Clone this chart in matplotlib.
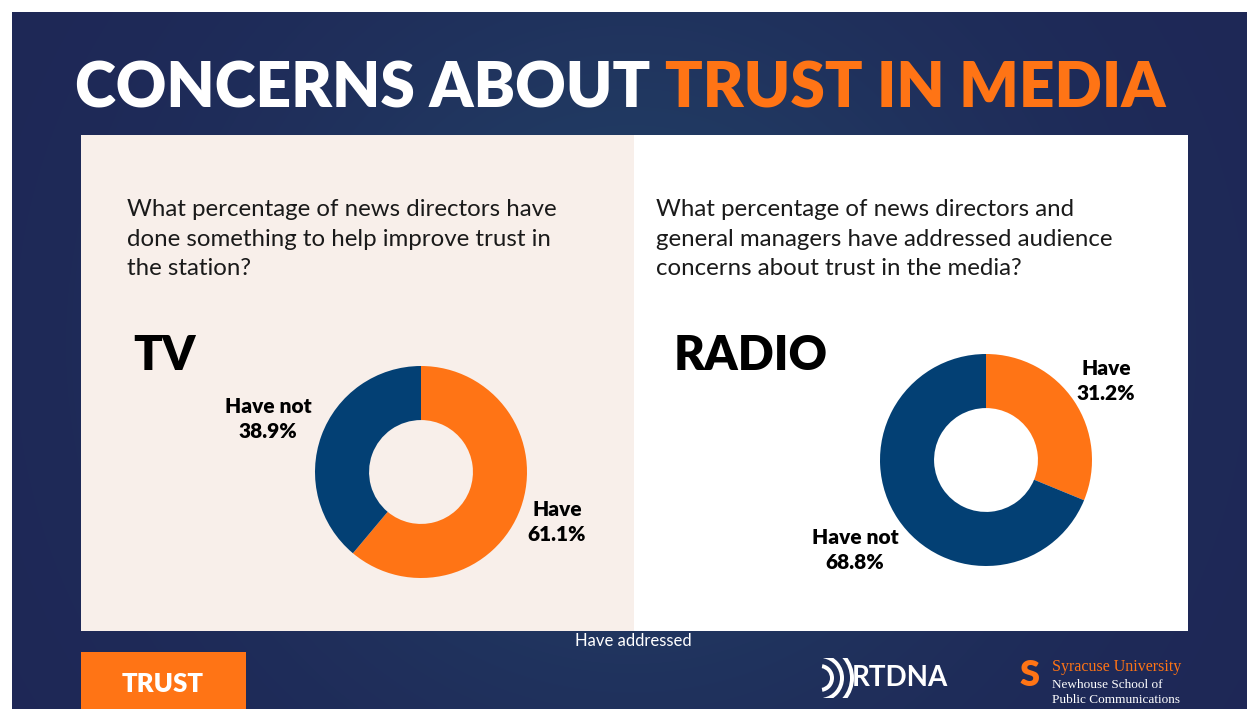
import matplotlib
matplotlib.use("Agg")
import matplotlib.pyplot as plt
import numpy as np
from matplotlib.patches import Rectangle, Wedge

# ---- data ----
categories = ["Have", "Have not"]
tv_values = [61.1, 38.9]
radio_values = [31.2, 68.8]
tv_labels = ["Have\n61.1%", "Have not\n38.9%"]
radio_labels = ["Have\n31.2%", "Have not\n68.8%"]
title_white = "CONCERNS ABOUT "
title_orange = "TRUST IN MEDIA"
q_left = "What percentage of news directors have\ndone something to help improve trust in\nthe station?"
q_right = "What percentage of news directors and\ngeneral managers have addressed audience\nconcerns about trust in the media?"

ORANGE = "#FF7415"
NAVY = "#034074"
BEIGE = "#F8EFEA"

W, H = 1247, 709
fig = plt.figure(figsize=(W / 100, H / 100), dpi=100)
fig.patch.set_facecolor("white")

def fx(x): return x / W
def fy(y): return 1 - y / H

# background with subtle glow
bg = fig.add_axes([fx(12), 0, 1 - fx(12), 1 - 12 / H], zorder=-10)
yy, xx = np.mgrid[0:200, 0:350]
cx, cy = 175, 95
d = np.sqrt(((xx - cx) / 110.0) ** 2 + ((yy - cy) / 110.0) ** 2)
glow = np.exp(-d ** 2)
base = np.array([0x1E, 0x27, 0x56]) / 255.0
hi = np.array([0x22, 0x40, 0x66]) / 255.0
img = base[None, None, :] * (1 - glow[..., None]) + hi[None, None, :] * glow[..., None]
bg.imshow(img, aspect="auto", extent=[0, 1, 0, 1], interpolation="bilinear")
bg.set_xlim(0, 1); bg.set_ylim(0, 1); bg.axis("off")

# panels
fig.patches.append(Rectangle((fx(81), fy(631)), fx(634 - 81), (631 - 135) / H,
                             transform=fig.transFigure, facecolor=BEIGE, edgecolor="none", zorder=-5))
fig.patches.append(Rectangle((fx(634), fy(631)), fx(1188 - 634), (631 - 135) / H,
                             transform=fig.transFigure, facecolor="white", edgecolor="none", zorder=-5))

FAM = ["Lato", "DejaVu Sans"]
# title
TS = 44.8
t1 = fig.text(fx(75), fy(89), title_white, color="white", fontsize=TS, fontweight="heavy",
              family=FAM, va="center", ha="left")
fig.canvas.draw()
bb = t1.get_window_extent()
fig.text(bb.x1 / W, fy(89), title_orange, color=ORANGE, fontsize=TS, fontweight="heavy",
         family=FAM, va="center", ha="left")

# questions
fig.text(fx(127), fy(199), q_left, color="#1a1a1a", fontsize=17.3, family=FAM,
         va="top", ha="left", linespacing=1.5)
fig.text(fx(656), fy(199), q_right, color="#1a1a1a", fontsize=17.3, family=FAM,
         va="top", ha="left", linespacing=1.5)

fig.text(fx(133), fy(356), "TV", color="black", fontsize=34, fontweight="heavy",
         family=FAM, va="center", ha="left")
fig.text(fx(674), fy(356), "RADIO", color="black", fontsize=34, fontweight="heavy",
         family=FAM, va="center", ha="left")

def donut(cxp, cyp, values, labels, label_pos):
    R = 106
    size = 2.4 * R
    ax = fig.add_axes([fx(cxp - size / 2), fy(cyp + size / 2), size / W, size / H], zorder=3)
    ax.pie(values, colors=[ORANGE, NAVY], startangle=90, counterclock=False,
           radius=1, wedgeprops=dict(width=0.51, edgecolor="none"))
    ax.set_xlim(-1.2, 1.2); ax.set_ylim(-1.2, 1.2)
    ax.set_aspect("equal"); ax.axis("off")
    for lab, (lx, ly) in zip(labels, label_pos):
        fig.text(fx(lx), fy(ly), lab, ha="center", va="center", fontsize=15, fontweight="heavy",
                 family=FAM, color="black", linespacing=1.35, zorder=4)

donut(421, 472, tv_values, tv_labels, [(557, 522), (268, 419)])
donut(986, 460, radio_values, radio_labels, [(1106, 381), (855, 550)])

fig.text(fx(633), fy(641), "Have addressed", color="white", fontsize=12,
         family=FAM, ha="center", va="center")

# bottom tag
fig.patches.append(Rectangle((fx(81), 0), fx(246 - 81), (709 - 652) / H,
                             transform=fig.transFigure, facecolor=ORANGE, edgecolor="none", zorder=2))
fig.text(fx(163), fy(684), "TRUST", color="white", fontsize=18.5, fontweight="heavy",
         family=FAM, ha="center", va="center", zorder=3)

# RTDNA logo
lax = fig.add_axes([fx(820), fy(698), fx(40), 40 / H])
for r in [0.35, 0.6, 0.85]:
    lax.add_patch(Wedge((0, 0.5), r, -80, 80, width=0.1, facecolor="white", edgecolor="none"))
lax.set_xlim(0, 1); lax.set_ylim(0, 1); lax.axis("off")
fig.text(fx(852), fy(678), "RTDNA", color="white", fontsize=20, fontweight="bold",
         family=FAM, ha="left", va="center")

# Syracuse logo
fig.text(fx(1020), fy(676), "S", color=ORANGE, fontsize=26, fontweight="heavy",
         family=FAM, ha="left", va="center")
fig.text(fx(1052), fy(667), "Syracuse University", color=ORANGE, fontsize=11.5,
         family=["Liberation Serif"], ha="left", va="center")
fig.text(fx(1052), fy(685), "Newhouse School of", color="white", fontsize=9.5,
         family=["Liberation Serif"], ha="left", va="center")
fig.text(fx(1052), fy(700), "Public Communications", color="white", fontsize=9.5,
         family=["Liberation Serif"], ha="left", va="center")

fig.savefig("out.png", dpi=100, facecolor="white")
